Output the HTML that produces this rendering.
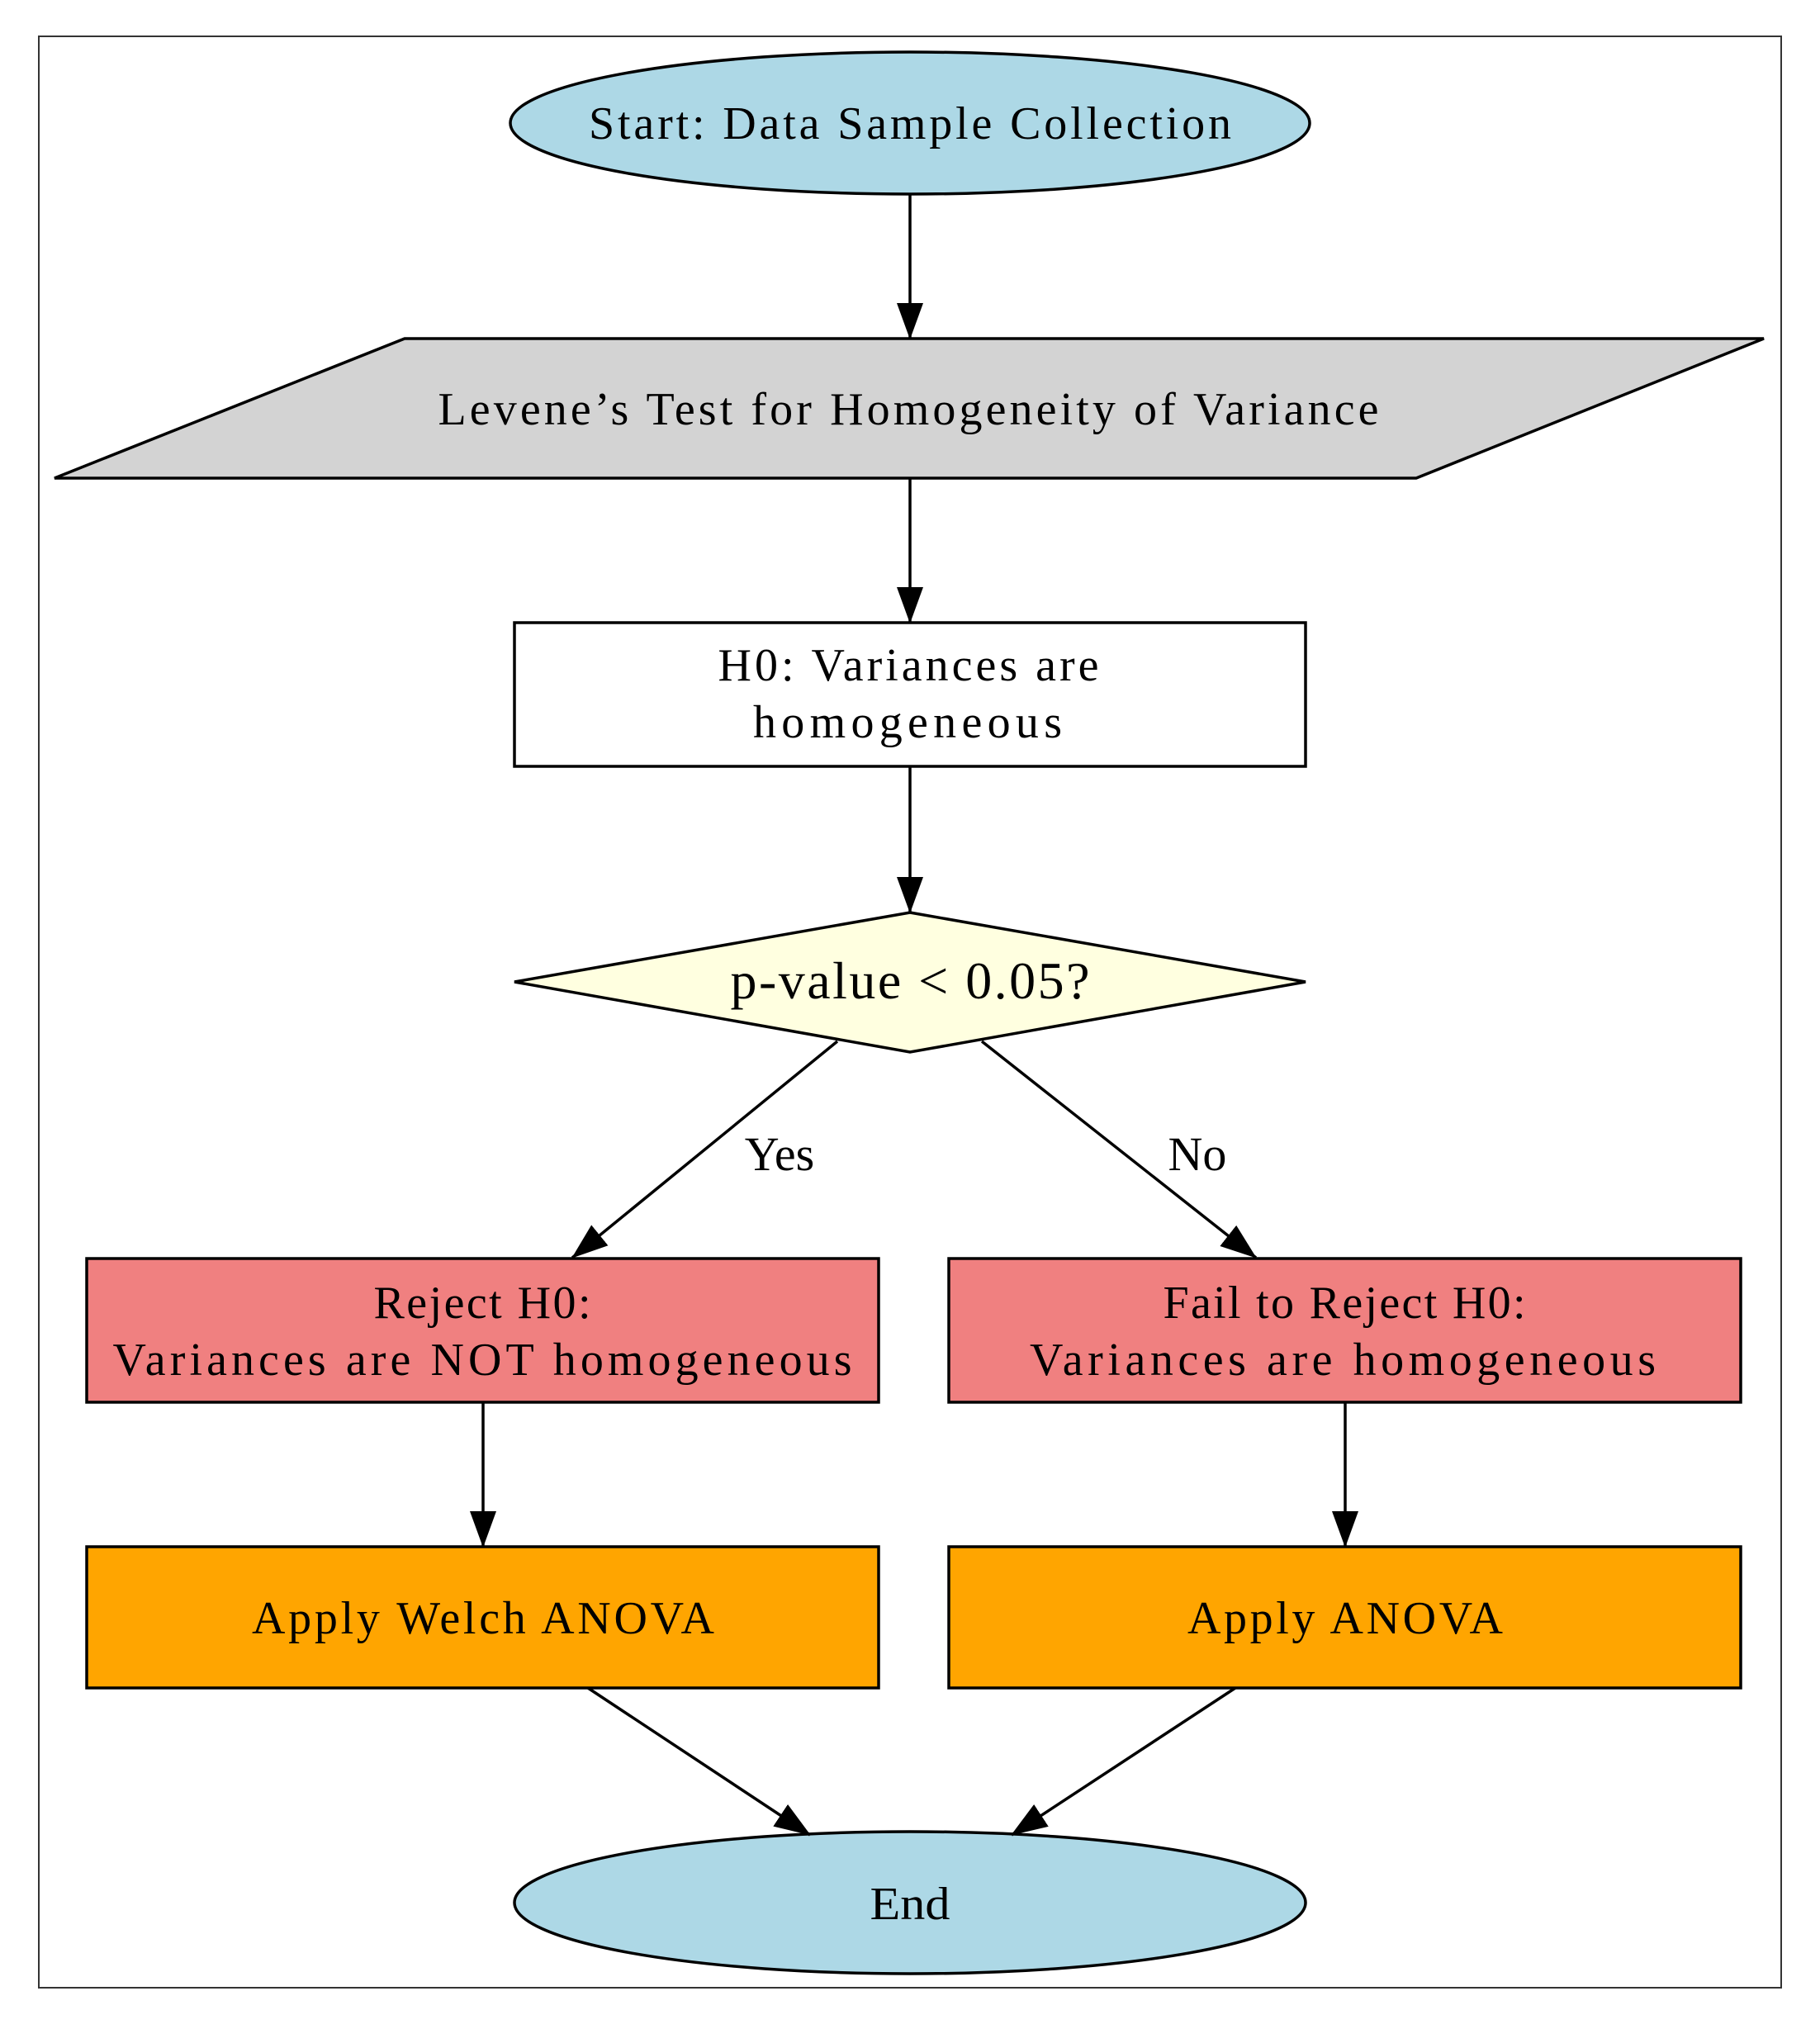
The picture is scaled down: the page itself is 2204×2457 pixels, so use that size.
<!DOCTYPE html>
<html><head><meta charset="utf-8"><style>html,body{margin:0;padding:0;background:#fff}svg{display:block}</style></head>
<body>
<svg width="2204" height="2457" viewBox="0 0 2204 2457" xmlns="http://www.w3.org/2000/svg" font-family="'Liberation Serif', serif" font-size="56" text-anchor="middle">
<defs>
<marker id="b" markerWidth="44" markerHeight="32" refX="43" refY="16" orient="auto" markerUnits="userSpaceOnUse"><path d="M0,0 L44,16 L0,32z" fill="#000"/></marker></defs>
<rect x="0" y="0" width="2204" height="2457" fill="#fff"/>
<rect x="47" y="44" width="2110" height="2363" fill="none" stroke="#333" stroke-width="2"/>
<g stroke="#000" stroke-width="3.5">
<ellipse cx="1102" cy="149" rx="484" ry="86" fill="#add8e6"/>
<polygon points="490,410 2136,410 1715,579 66,579" fill="#d3d3d3"/>
<rect x="623" y="754" width="958" height="174" fill="#fff"/>
<polygon points="1102,1105 1581,1189 1102,1274 623,1189" fill="#ffffe0"/>
<rect x="105" y="1524" width="959" height="174" fill="#f08080"/>
<rect x="1149" y="1524" width="959" height="174" fill="#f08080"/>
<rect x="105" y="1873" width="959" height="171" fill="#ffa500"/>
<rect x="1149" y="1873" width="959" height="171" fill="#ffa500"/>
<ellipse cx="1102" cy="2304" rx="479" ry="86" fill="#add8e6"/>
<g fill="none" marker-end="url(#b)">
<line x1="1102" y1="235" x2="1102" y2="410"/>
<line x1="1102" y1="579" x2="1102" y2="754"/>
<line x1="1102" y1="928" x2="1102" y2="1105"/>
<line x1="1014" y1="1261" x2="693" y2="1523"/>
<line x1="1189" y1="1261" x2="1521" y2="1523"/>
<line x1="585" y1="1698" x2="585" y2="1873"/>
<line x1="1629" y1="1698" x2="1629" y2="1873"/>
<line x1="712" y1="2044" x2="981" y2="2222"/>
<line x1="1496" y1="2044" x2="1225" y2="2222"/>
</g></g>
<g fill="#000">
<text x="1102" y="168" textLength="778" lengthAdjust="spacing">Start: Data Sample Collection</text>
<text x="1100" y="514" textLength="1139" lengthAdjust="spacing">Levene’s Test for Homogeneity of Variance</text>
<text x="1100" y="824" textLength="461" lengthAdjust="spacing">H0: Variances are</text>
<text x="1099" y="893" textLength="374" lengthAdjust="spacing">homogeneous</text>
<text x="1102" y="1209" font-size="64" textLength="435" lengthAdjust="spacing">p-value &lt; 0.05?</text>
<text x="944" y="1417" font-size="58">Yes</text>
<text x="1450" y="1417" font-size="58">No</text>
<text x="584" y="1596" textLength="263" lengthAdjust="spacing">Reject H0:</text>
<text x="584" y="1665" textLength="895" lengthAdjust="spacing">Variances are NOT homogeneous</text>
<text x="1628" y="1596" textLength="439" lengthAdjust="spacing">Fail to Reject H0:</text>
<text x="1626" y="1665" textLength="758" lengthAdjust="spacing">Variances are homogeneous</text>
<text x="585" y="1978" textLength="560" lengthAdjust="spacing">Apply Welch ANOVA</text>
<text x="1629" y="1978" textLength="382" lengthAdjust="spacing">Apply ANOVA</text>
<text x="1102" y="2324" textLength="97" lengthAdjust="spacingAndGlyphs">End</text>
</g>
</svg>
</body></html>
